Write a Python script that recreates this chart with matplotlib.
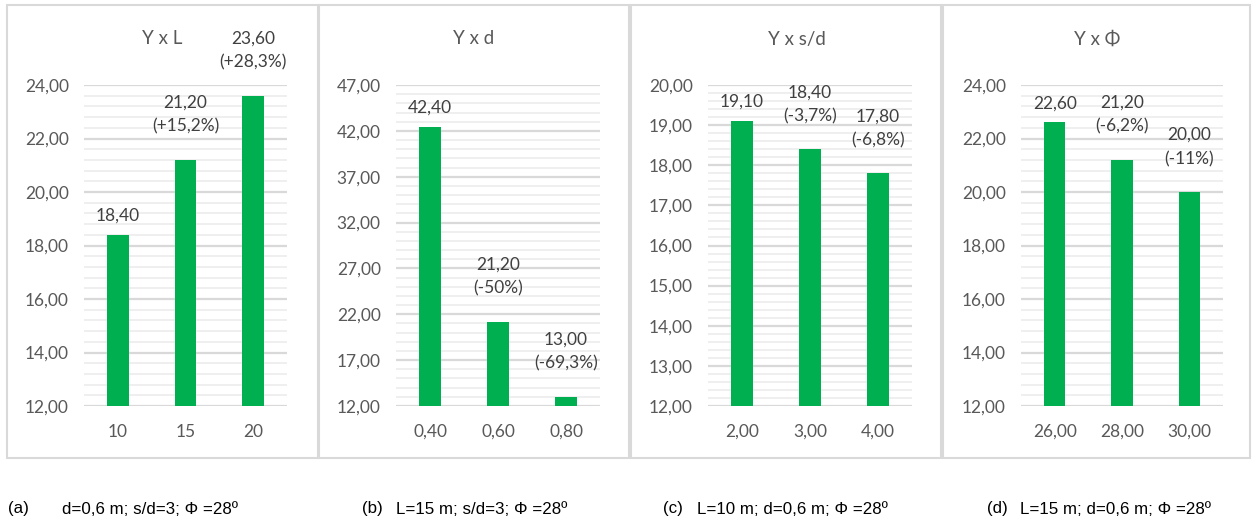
import matplotlib
matplotlib.use("Agg")
import matplotlib.pyplot as plt
from matplotlib.patches import Rectangle
from matplotlib.ticker import MultipleLocator, FuncFormatter

# data
titles = ["Y x L", "Y x d", "Y x s/d", "Y x Φ"]
x_labels_a = ["10", "15", "20"]
x_labels_b = ["0,40", "0,60", "0,80"]
x_labels_c = ["2,00", "3,00", "4,00"]
x_labels_d = ["26,00", "28,00", "30,00"]
values_a = [18.40, 21.20, 23.60]
values_b = [42.40, 21.20, 13.00]
values_c = [19.10, 18.40, 17.80]
values_d = [22.60, 21.20, 20.00]
pct_a = ["", "+15,2%", "+28,3%"]
pct_b = ["", "-50%", "-69,3%"]
pct_c = ["", "-3,7%", "-6,8%"]
pct_d = ["", "-6,2%", "-11%"]
captions = [("(a)", "d=0,6 m; s/d=3; Φ =28º"),
            ("(b)", "L=15 m; s/d=3; Φ =28º"),
            ("(c)", "L=10 m; d=0,6 m; Φ =28º"),
            ("(d)", "L=15 m; d=0,6 m; Φ =28º")]

W, H = 1252, 519
GREEN = "#00B050"
GREY_TXT = "#595959"
FONT = "Lato"


def fmt(v, pos=None):
    return f"{v:.2f}".replace(".", ",")


def px_axes(fig, left, right, top, bottom):
    return fig.add_axes([left / W, 1 - bottom / H, (right - left) / W,
                         (bottom - top) / H])


def draw_panel(ax, labels, values, pct, ylim, major, minor):
    xs = range(len(values))
    ax.bar(xs, values, width=0.32, color=GREEN, zorder=3)
    ax.set_xlim(-0.5, len(values) - 0.5)
    ax.set_ylim(*ylim)
    # ticks start at the axis minimum (12), as in the spreadsheet chart
    ax.yaxis.set_major_locator(MultipleLocator(major, offset=ylim[0] % major))
    ax.yaxis.set_minor_locator(MultipleLocator(minor, offset=ylim[0] % minor))
    ax.yaxis.set_major_formatter(FuncFormatter(fmt))
    ax.grid(axis="y", which="major", color="#d9d9d9", lw=1.6, zorder=0)
    ax.grid(axis="y", which="minor", color="#efefef", lw=1.4, zorder=0)
    ax.set_xticks(list(xs))
    ax.set_xticklabels(labels)
    ax.tick_params(axis="both", which="both", length=0, colors=GREY_TXT,
                   labelsize=12.5)
    ax.tick_params(axis="x", pad=13)
    ax.tick_params(axis="y", pad=11)
    for lab in ax.get_xticklabels() + ax.get_yticklabels():
        lab.set_fontfamily(FONT)
    for s in ax.spines.values():
        s.set_visible(False)
    for x, v, p in zip(xs, values, pct):
        if p:
            txt = fmt(v) + "\n(" + p + ")"
            off = 18
        else:
            txt = fmt(v)
            off = 8
        ax.annotate(txt, (x, v), xytext=(0, off), textcoords="offset points",
                    ha="center", va="bottom", fontsize=12.5, color="#404040",
                    family=FONT, linespacing=1.6)


def main():
    fig = plt.figure(figsize=(W / 100, H / 100), dpi=100)

    # panel frames (pixels: left, right)
    boxes = [(7, 318), (319, 629), (631, 941), (943, 1250)]
    for l, r in boxes:
        fig.patches.append(Rectangle((l / W, 1 - 458 / H), (r - l) / W,
                                     (458 - 5) / H, transform=fig.transFigure,
                                     fill=False, ec="#d9d9d9", lw=1.5))

    ax_a = px_axes(fig, 84, 287, 85, 406)
    ax_b = px_axes(fig, 396, 600, 85, 406)
    ax_c = px_axes(fig, 708, 912, 85, 406)
    ax_d = px_axes(fig, 1021, 1223, 85, 406)

    draw_panel(ax_a, x_labels_a, values_a, pct_a, (12, 24), 2, 0.4)
    draw_panel(ax_b, x_labels_b, values_b, pct_b, (12, 47), 5, 1)
    draw_panel(ax_c, x_labels_c, values_c, pct_c, (12, 20), 1, 0.2)
    draw_panel(ax_d, x_labels_d, values_d, pct_d, (12, 24), 2, 0.4)

    title_x = [162, 474, 797, 1097]
    for t, x in zip(titles, title_x):
        fig.text(x / W, 1 - 39 / H, t, ha="center", va="center",
                 fontsize=13.5, color=GREY_TXT, family=FONT)

    cap_x = [(8, 62), (362, 396), (663, 697), (987, 1020)]
    for (tag, txt), (x1, x2) in zip(captions, cap_x):
        fig.text(x1 / W, 1 - 509 / H, tag, ha="left", va="center",
                 fontsize=12.2, family="Liberation Sans")
        fig.text(x2 / W, 1 - 509 / H, txt, ha="left", va="center",
                 fontsize=12.2, family="Liberation Sans")

    fig.savefig("out.png", dpi=100, facecolor="white")


if __name__ == "__main__":
    main()
